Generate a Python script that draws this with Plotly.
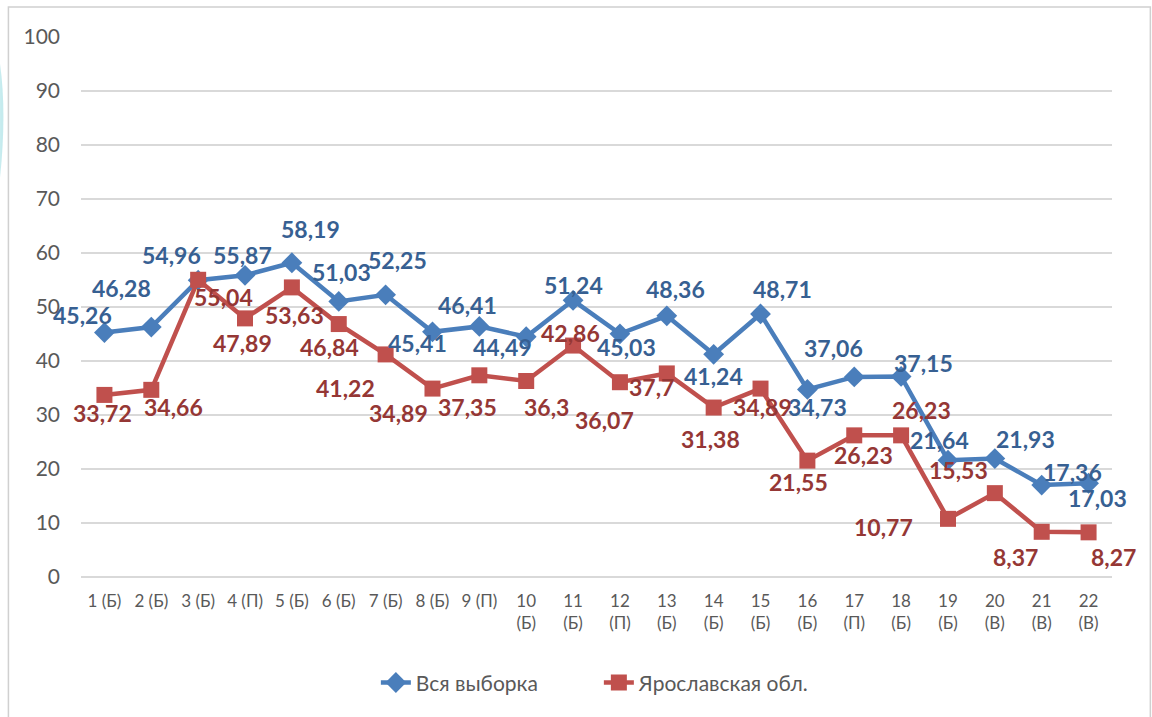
import plotly.graph_objects as go

# ---- data ----
categories = ["1 (Б)", "2 (Б)", "3 (Б)", "4 (П)", "5 (Б)", "6 (Б)", "7 (Б)", "8 (Б)", "9 (П)",
              "10 (Б)", "11 (Б)", "12 (П)", "13 (Б)", "14 (Б)", "15 (Б)", "16 (Б)", "17 (П)",
              "18 (Б)", "19 (Б)", "20 (В)", "21 (В)", "22 (В)"]
series_all_name = "Вся выборка"
series_all = [45.26, 46.28, 54.96, 55.87, 58.19, 51.03, 52.25, 45.41, 46.41, 44.49, 51.24,
              45.03, 48.36, 41.24, 48.71, 34.73, 37.06, 37.15, 21.64, 21.93, 17.03, 17.36]
series_yar_name = "Ярославская обл."
series_yar = [33.72, 34.66, 55.04, 47.89, 53.63, 46.84, 41.22, 34.89, 37.35, 36.3, 42.86,
              36.07, 37.7, 31.38, 34.89, 21.55, 26.23, 26.23, 10.77, 15.53, 8.37, 8.27]
y_ticks = [0, 10, 20, 30, 40, 50, 60, 70, 80, 90, 100]

# ---- styling / label placement (pixel offsets from each point: dx right, dy down) ----
off_all = [(-22, -18), (-30, -39), (-27, -25), (-3, -20), (19, -34), (3, -29), (12, -35),
           (-15, 11), (-12, -21), (-24, 10), (0, -15), (7, 13), (9, -27), (0, 22), (22, -25),
           (10, 18), (-21, -29), (22, -13), (-8, -20), (31, -20), (56, 13), (-16, -11)]
off_yar = [(-2, 18), (22, 17), (25, 17), (-3, 25), (3, 28), (-9, 23), (-40, 34), (-34, 24),
           (-12, 32), (20, 26), (-3, -13), (-15, 38), (-15, 14), (-3, 31), (2, 18), (-9, 21),
           (9, 20), (20, -25), (-64, 8), (-36, -23), (-26, 25), (25, 25)]

BLUE = "#4A7EBB"
RED = "#C0504D"
BLUE_LBL = "#376092"
RED_LBL = "#953735"
GRAY_TXT = "#595959"
GRID = "#D9D9D9"
FONT = "Lato"


def fmt(v):
    return repr(v).replace(".", ",")


def tick_text(lbl):
    num = int(lbl.split(" ")[0])
    return lbl.replace(" ", "<br>") if num >= 10 else lbl


x = list(range(len(categories)))

fig = go.Figure()
fig.add_trace(go.Scatter(
    x=x, y=series_all, name=series_all_name, mode="lines+markers",
    line=dict(color=BLUE, width=4.5),
    marker=dict(symbol="diamond", size=16, color=BLUE),
    cliponaxis=False,
))
fig.add_trace(go.Scatter(
    x=x, y=series_yar, name=series_yar_name, mode="lines+markers",
    line=dict(color=RED, width=4.5),
    marker=dict(symbol="square", size=16, color=RED),
    cliponaxis=False,
))

annotations = []
for vals, offs, col in ((series_all, off_all, BLUE_LBL), (series_yar, off_yar, RED_LBL)):
    for i, (v, (dx, dy)) in enumerate(zip(vals, offs)):
        annotations.append(dict(
            x=i, y=v, xref="x", yref="y", text="<b>" + fmt(v) + "</b>",
            showarrow=False, xshift=dx, yshift=-dy,
            font=dict(family=FONT, size=23, color=col),
        ))

fig.update_layout(
    width=1152, height=717,
    margin=dict(l=81, r=40, t=37, b=140),
    paper_bgcolor="white", plot_bgcolor="white",
    font=dict(family=FONT, color=GRAY_TXT),
    showlegend=True,
    legend=dict(orientation="h", x=0.286, xanchor="left", y=-0.196, yanchor="middle",
                entrywidth=178, entrywidthmode="pixels",
                font=dict(family=FONT, size=21, color=GRAY_TXT), bgcolor="rgba(0,0,0,0)"),
    annotations=annotations,
    shapes=[
        dict(type="rect", xref="paper", yref="paper", x0=-0.0704, x1=1.0372, y0=-0.27, y1=1.0556,
             line=dict(color="#D0D0D0", width=1.5), fillcolor="rgba(0,0,0,0)", layer="below"),
        dict(type="path", xref="paper", yref="paper",
             path="M -0.0785 0.95 Q -0.072 0.86 -0.0785 0.74 L -0.0785 0.95 Z",
             line=dict(width=0), fillcolor="rgba(64,190,200,0.3)", layer="below"),
    ],
)
fig.update_xaxes(
    range=[-0.5, len(categories) - 0.5],
    tickmode="array", tickvals=x, ticktext=[tick_text(c) for c in categories],
    showgrid=False, zeroline=False, showline=False, ticks="",
    tickfont=dict(family=FONT, size=17, color=GRAY_TXT),
    ticklabelstandoff=12,
)
fig.update_yaxes(
    range=[0, 100], tickmode="array", tickvals=y_ticks,
    showgrid=True, gridcolor=GRID, gridwidth=1.5,
    zeroline=True, zerolinecolor=GRID, zerolinewidth=1.5,
    showline=False, ticks="",
    tickfont=dict(family=FONT, size=21, color=GRAY_TXT),
    ticklabelstandoff=20,
)

fig.write_html("out.html", config={"displayModeBar": False},
               post_script="document.body.style.margin='0px';document.body.style.overflow='hidden';")
